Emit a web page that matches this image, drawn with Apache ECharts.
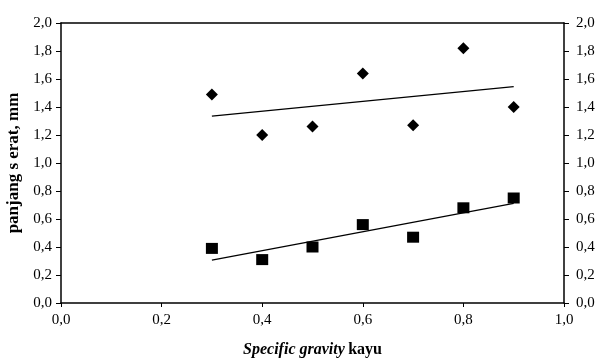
<!DOCTYPE html>
<html>
<head>
<meta charset="utf-8">
<script src="https://cdn.jsdelivr.net/npm/echarts@6/dist/echarts.min.js"></script>
<style>
  html, body { margin: 0; padding: 0; background: #fff; }
  #chart { width: 600px; height: 358px; }
</style>
</head>
<body>
<div id="chart"></div>
<script>
// Specific gravity of wood (x) against fibre length (y)
const specificGravity = [0.3, 0.4, 0.5, 0.6, 0.7, 0.8, 0.9];
const upperSeries = [1.49, 1.20, 1.26, 1.64, 1.27, 1.82, 1.40];
const lowerSeries = [0.39, 0.31, 0.40, 0.56, 0.47, 0.68, 0.75];
const yTicks = [0, 0.2, 0.4, 0.6, 0.8, 1.0, 1.2, 1.4, 1.6, 1.8, 2.0];
const xTicks = [0, 0.2, 0.4, 0.6, 0.8, 1.0];

// least-squares line through a series, evaluated at its first and last x
function trendLine(xs, ys) {
  const n = xs.length;
  const mx = xs.reduce((a, b) => a + b, 0) / n;
  const my = ys.reduce((a, b) => a + b, 0) / n;
  let sxy = 0, sxx = 0;
  for (let i = 0; i < n; i++) {
    sxy += (xs[i] - mx) * (ys[i] - my);
    sxx += (xs[i] - mx) * (xs[i] - mx);
  }
  const b = sxy / sxx, a = my - b * mx;
  const x0 = xs[0], x1 = xs[n - 1];
  return [[x0, a + b * x0], [x1, a + b * x1]];
}

const fmt = v => v.toFixed(1).replace('.', ',');
const font = 'Liberation Serif, Times New Roman, serif';
const labelStyle = { fontFamily: font, fontSize: 15, color: '#000' };

const chart = echarts.init(document.getElementById('chart'), null, { renderer: 'canvas' });
chart.setOption({
  animation: false,
  backgroundColor: '#fff',
  grid: { left: 61, right: 36, top: 23, bottom: 55, containLabel: false, outerBoundsMode: 'none' },
  xAxis: [
    {
      type: 'value', min: xTicks[0], max: xTicks[xTicks.length - 1], interval: 0.2, position: 'bottom',
      axisLine: { show: true, onZero: false, lineStyle: { color: '#000', width: 1.5 } },
      axisTick: { show: true, inside: false, length: 4, lineStyle: { color: '#000' } },
      axisLabel: Object.assign({ margin: 10, formatter: fmt }, labelStyle),
      splitLine: { show: false },
      name: '{i|Specific gravity} {b|kayu}',
      nameLocation: 'middle', nameGap: 39,
      nameTextStyle: {
        rich: {
          i: { fontFamily: font, fontSize: 16, fontStyle: 'italic', fontWeight: 'bold', color: '#000' },
          b: { fontFamily: font, fontSize: 16, fontWeight: 'bold', color: '#000' }
        }
      }
    },
    {
      type: 'value', min: xTicks[0], max: xTicks[xTicks.length - 1], position: 'top',
      axisLine: { show: true, onZero: false, lineStyle: { color: '#000', width: 1.5 } },
      axisTick: { show: false }, axisLabel: { show: false }, splitLine: { show: false }
    }
  ],
  yAxis: [
    {
      type: 'value', min: yTicks[0], max: yTicks[yTicks.length - 1], interval: 0.2, position: 'left',
      axisLine: { show: true, onZero: false, lineStyle: { color: '#000', width: 1.5 } },
      axisTick: { show: true, length: 5, lineStyle: { color: '#000' } },
      axisLabel: Object.assign({ margin: 9, formatter: fmt }, labelStyle),
      splitLine: { show: false },
      name: 'panjang s erat, mm', nameLocation: 'middle', nameGap: 35,
      nameTextStyle: { fontFamily: font, fontSize: 17, fontWeight: 'bold', color: '#000' }
    },
    {
      type: 'value', min: yTicks[0], max: yTicks[yTicks.length - 1], interval: 0.2, position: 'right',
      axisLine: { show: true, onZero: false, lineStyle: { color: '#000', width: 1.5 } },
      axisTick: { show: true, length: 5, lineStyle: { color: '#000' } },
      axisLabel: Object.assign({ margin: 12, formatter: fmt }, labelStyle),
      splitLine: { show: false }
    }
  ],
  series: [
    {
      type: 'scatter', symbol: 'diamond', symbolSize: [12, 12],
      itemStyle: { color: '#000', opacity: 1 },
      data: specificGravity.map((x, i) => [x, upperSeries[i]])
    },
    {
      type: 'scatter', symbol: 'rect', symbolSize: [12, 11],
      itemStyle: { color: '#000', opacity: 1 },
      data: specificGravity.map((x, i) => [x, lowerSeries[i]])
    },
    {
      type: 'line', symbol: 'none', silent: true,
      lineStyle: { color: '#000', width: 1.3 },
      data: trendLine(specificGravity, upperSeries)
    },
    {
      type: 'line', symbol: 'none', silent: true,
      lineStyle: { color: '#000', width: 1.3 },
      data: trendLine(specificGravity, lowerSeries)
    }
  ]
});
</script>
</body>
</html>
